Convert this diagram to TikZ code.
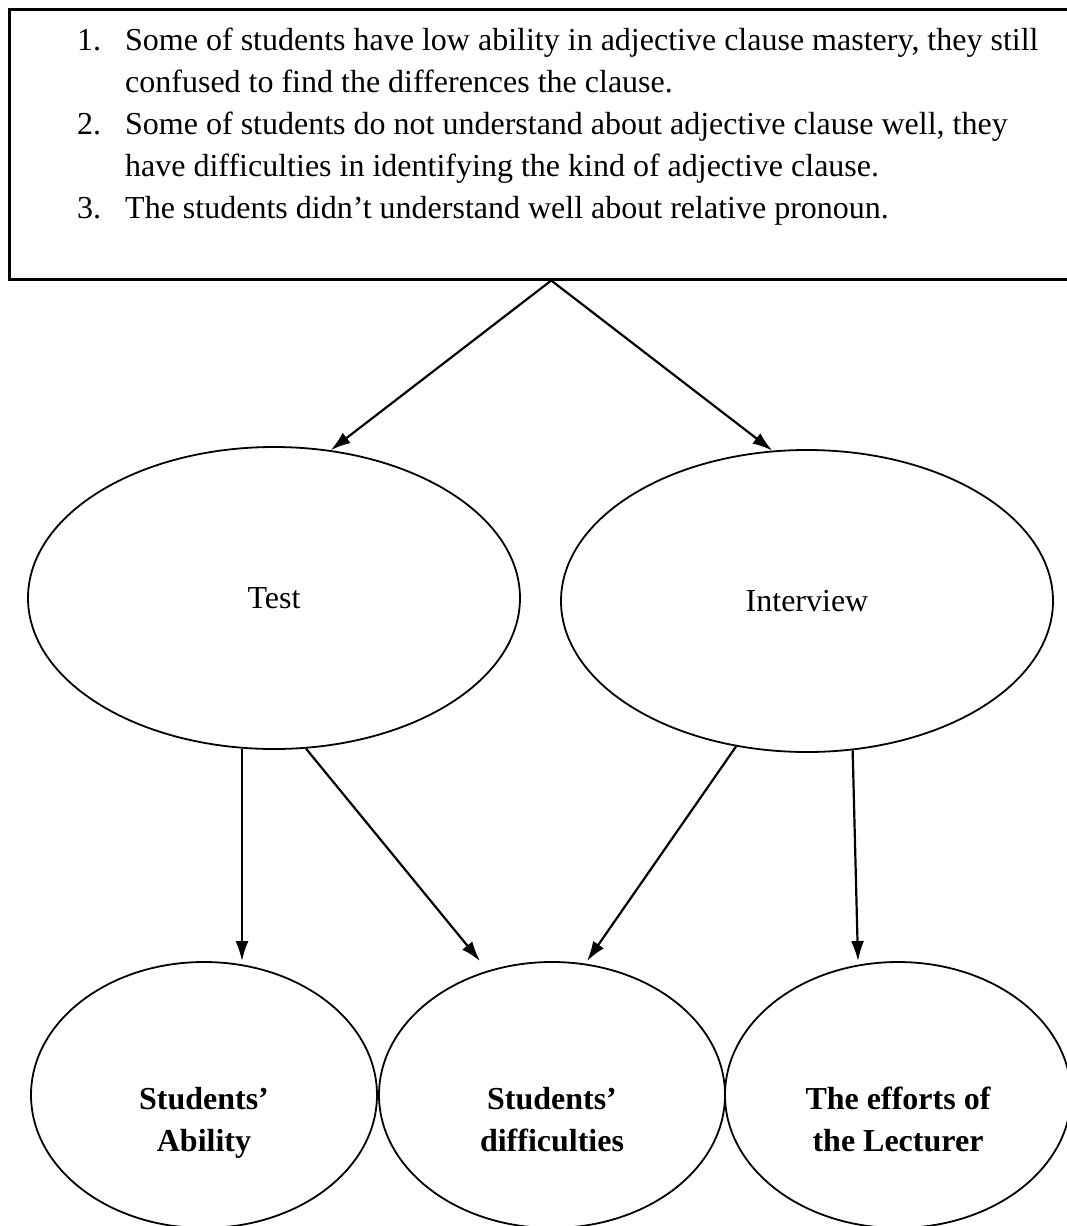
\documentclass[tikz,border=0pt]{standalone}
\usepackage{fontspec}
\setmainfont{Liberation Serif}
\usetikzlibrary{arrows.meta,shapes.geometric}
\newcommand{\ovaltext}[2]{\raisebox{-33pt}[0pt][0pt]{\begin{tabular}{@{}c@{}}#1\\#2\end{tabular}}}

\begin{document}
\begin{tikzpicture}[x=1pt,y=-1pt,
  bigoval/.style={ellipse, draw, line width=1.8pt, inner sep=0pt, minimum width=492pt, minimum height=302pt,
    font=\fontsize{32}{42}\selectfont},
  smalloval/.style={ellipse, draw, line width=1.8pt, inner sep=0pt, minimum width=346pt, minimum height=266pt,
    font=\fontsize{32}{42}\selectfont\bfseries},
  link/.style={line width=2.2pt, -{Latex[length=20pt,width=13pt]}}]
  \useasboundingbox (0,0) rectangle (1066,1226);

  % problems
  \node[draw, line width=2.5pt, anchor=north west, minimum width=1084pt, minimum height=270pt] (problems) at (8,8) {};
  \node[anchor=north west, inner sep=0pt, font=\fontsize{32}{42}\selectfont] (list) at (77,21) {%
    \begin{tabular}{@{}p{48pt}@{}l@{}}
    1. & Some of students have low ability in adjective clause mastery, they still\\
       & confused to find the differences the clause.\\
    2. & Some of students do not understand about adjective clause well, they\\
       & have difficulties in identifying the kind of adjective clause.\\
    3. & The students didn’t understand well about relative pronoun.
    \end{tabular}};

  % instruments
  \node[bigoval] (test) at (274,598) {Test};
  \node[bigoval] (interview) at (807,601) {Interview};

  % results
  \node[smalloval] (ability) at (204,1095) {\ovaltext{Students’}{Ability}};
  \node[smalloval] (difficulties) at (552,1095) {\ovaltext{Students’}{difficulties}};
  \node[smalloval] (lecturer) at (898,1095) {\ovaltext{The efforts of}{the Lecturer}};

  \draw[link] (problems.south) -- (test.69);
  \draw[link] (problems.south) -- (interview.103);
  \draw[link] (test.258) -- (test.258 |- ability.north);
  \draw[link] (test.282) -- ([xshift=-72pt]difficulties.north);
  \draw[link] (interview.244) -- ([xshift=35pt]difficulties.north);
  \draw[link] (interview.287) -- ([xshift=-40pt]lecturer.north);
\end{tikzpicture}
\end{document}
